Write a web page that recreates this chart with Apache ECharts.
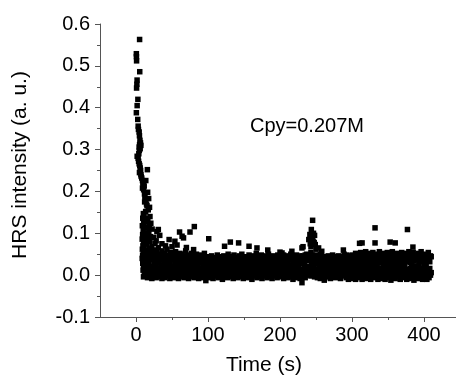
<!DOCTYPE html>
<html><head><meta charset="utf-8">
<script src="https://cdn.jsdelivr.net/npm/echarts@6/dist/echarts.min.js"></script>
<style>html,body{margin:0;padding:0;background:#fff}#c{width:456px;height:376px}</style>
</head><body><div id="c"></div>
<script>
const xTicks=[0,100,200,300,400];
const xMinorTicks=[50,150,250,350];
const xName="Time (s)";
const yName="HRS intensity (a. u.)";
const note="Cpy=0.207M";

// decay phase
const decayT=[5,0.5,0.6,0.8,5.2,1.5,1.2,0.8,2.6,1.6,0.5,2.4,3.0,3.4,4.4,4.8,5.5,6.2,5.0,4.4,5.8,4.6,6.8,3.9,
1.6,3.0,3.6,4.4,5.2,5.8,6.4,4.8,15.8,6.8,7.2,8.0,9.0,10.0,9.6,11.4,9.0,13.6,10.6,
16.2,11.8,12.4,17.6,13.0,12.0,14.6,15.2,18.8,17.0,13.4,10.2,11.2,19.4,9.4,14.0,12.6,16.4,10.6,
20.6,18.4,8.8,12.2,15.6,22.4,10.0,31.0,29.0,17.8,13.6,9.2,11.8,20.2,24.8,15.0,8.6,12.8,19.2,10.4,26.4,14.4,9.6,22.0,11.2,8.8,17.0,10.8,13.2,9.2,11.8,8.6,10.2,9.4,12.4,10.6,9.8,11.6,13.8,10.4,
46,54,60.5,64,66,75,81,80,36,41,28,33,50,57,70];
const decayY=[0.563,0.529,0.522,0.512,0.486,0.466,0.456,0.447,0.42,0.405,0.388,0.372,0.356,0.348,0.342,0.333,0.322,0.316,0.312,0.306,0.302,0.298,0.31,0.29,
0.284,0.279,0.272,0.266,0.262,0.256,0.25,0.245,0.252,0.24,0.236,0.232,0.226,0.222,0.216,0.213,0.208,0.226,0.204,
0.198,0.194,0.188,0.183,0.18,0.175,0.17,0.166,0.162,0.156,0.152,0.147,0.143,0.14,0.136,0.135,0.132,0.128,0.125,
0.124,0.12,0.118,0.115,0.113,0.11,0.107,0.109,0.104,0.103,0.1,0.097,0.094,0.092,0.09,0.088,0.086,0.083,0.081,0.078,0.076,0.074,0.07,0.068,0.066,0.062,0.06,0.055,0.052,0.048,0.044,0.04,0.035,0.028,0.024,0.02,0.012,0.005,0.0,-0.004,
0.085,0.081,0.103,0.093,0.089,0.103,0.116,0.061,0.075,0.07,0.082,0.095,0.068,0.072,0.066];

// scattered high / low points of the baseline (incl. the spike near 245 s)
const outT=[101,123,131,142.5,157,168,183,200,202.8,216.5,230.5,232,240,241.5,243.5,244,245.3,246,248,249,253.6,258,242,243,245,246.5,247.5,250,288,310.5,314,332,332,353,360,377,384.6,230.5,261.5,97];
const outY=[0.087,0.069,0.079,0.077,0.069,0.065,0.06,0.055,0.053,0.057,0.065,0.068,0.085,0.097,0.109,0.089,0.131,0.081,0.095,0.073,0.065,0.057,0.075,0.068,0.092,0.1,0.078,0.062,0.06,0.076,0.077,0.113,0.077,0.079,0.077,0.109,0.067,-0.018,-0.012,-0.013];

// baseline band, segment 1
const t1=[12,13,14,15,16,17,18,19,20,21,22,23,24,25,26,27,28,29,30,31,32,33,34,35,36,37,38,39,40,41,42,43,44,45,46,47,48,49,50,51,52,53,54,55,56,57,58,59,60,61,62,63,64,65,66,67,68,69,70,71,72,73,74,75,76,77,78,79,80,81,82,83,84,85,86,87,88,89,90,91,92,93,94,95,96,97,98,99];
const lo1=[0.012,-0.002,0.020,0.004,-0.006,0.016,0.008,-0.004,0.014,0.002,
-0.008,0.010,0.018,-0.002,0.006,0.012,-0.006,0.016,0.000,0.008,
0.014,-0.004,0.004,0.018,-0.008,0.010,0.002,0.012,-0.006,0.016,
0.006,-0.002,0.014,0.000,0.010,-0.008,0.018,0.004,-0.004,0.012,
0.008,-0.006,0.016,0.002,-0.002,0.010,0.014,-0.008,0.006,0.018,
0.000,0.012,-0.004,0.008,0.016,-0.006,0.004,0.010,-0.002,0.014,
0.006,-0.008,0.018,0.002,0.012,-0.004,0.008,0.016,0.000,-0.006,
0.010,0.014,-0.002,0.004,0.018,-0.008,0.012,0.006,-0.004,0.016,
0.002,0.010,-0.006,0.014,0.008,-0.002,0.018,0.004];
const hi1=[0.046,0.030,0.058,0.024,0.040,0.052,0.028,0.064,0.036,0.044,
0.056,0.022,0.038,0.060,0.032,0.048,0.026,0.054,0.042,0.066,
0.030,0.050,0.036,0.024,0.058,0.040,0.046,0.028,0.052,0.034,
0.044,0.062,0.026,0.038,0.048,0.030,0.054,0.042,0.022,0.050,
0.036,0.046,0.028,0.056,0.040,0.032,0.048,0.024,0.044,0.052,
0.030,0.038,0.050,0.026,0.042,0.034,0.046,0.058,0.028,0.040,
0.048,0.022,0.036,0.044,0.030,0.052,0.038,0.026,0.046,0.034,
0.042,0.028,0.050,0.036,0.024,0.044,0.032,0.048,0.040,0.030,
0.046,0.026,0.038,0.052,0.034,0.042,0.028,0.044];

// segment 2
const t2=[100,101,102,103,104,105,106,107,108,109,110,111,112,113,114,115,116,117,118,119,120,121,122,123,124,125,126,127,128,129,130,131,132,133,134,135,136,137,138,139,140,141,142,143,144,145,146,147,148,149,150,151,152,153,154,155,156,157,158,159,160,161,162,163,164,165,166,167,168,169,170,171,172,173,174,175,176,177,178,179,180,181,182,183,184,185,186,187,188,189,190,191,192,193,194,195,196,197,198,199];
const lo2=[0.004,-0.006,0.012,0.000,0.016,-0.004,0.008,-0.008,0.014,0.002,
0.010,-0.002,0.018,0.006,-0.006,0.012,0.000,0.016,-0.004,0.008,
-0.010,0.014,0.004,0.010,-0.002,0.018,0.002,-0.006,0.012,0.006,
0.016,-0.004,0.008,0.000,0.014,-0.008,0.010,0.004,-0.002,0.018,
0.006,-0.006,0.012,0.002,0.016,-0.004,0.008,0.000,0.014,-0.008,
0.010,0.004,-0.002,0.018,0.006,-0.006,0.012,0.000,0.016,-0.004,
0.008,-0.010,0.014,0.002,0.010,-0.002,0.018,0.004,-0.006,0.012,
0.006,0.016,-0.004,0.000,0.008,-0.008,0.014,0.010,0.002,-0.002,
0.018,0.004,-0.006,0.012,0.006,0.016,-0.004,0.000,0.008,-0.008,
0.014,0.002,0.010,-0.002,0.018,0.006,-0.006,0.012,0.000,0.016];
const hi2=[0.032,0.044,0.024,0.038,0.028,0.046,0.020,0.036,0.040,0.026,
0.042,0.030,0.022,0.048,0.034,0.026,0.040,0.018,0.044,0.032,
0.036,0.024,0.046,0.028,0.038,0.020,0.042,0.034,0.050,0.026,
0.030,0.040,0.022,0.044,0.036,0.028,0.048,0.024,0.038,0.032,
0.042,0.020,0.034,0.046,0.026,0.040,0.030,0.050,0.024,0.036,
0.028,0.044,0.032,0.022,0.040,0.036,0.026,0.048,0.030,0.038,
0.024,0.042,0.034,0.046,0.020,0.038,0.028,0.052,0.032,0.040,
0.026,0.044,0.036,0.030,0.048,0.022,0.040,0.034,0.046,0.028,
0.038,0.024,0.042,0.032,0.050,0.026,0.036,0.044,0.020,0.040,
0.030,0.046,0.028,0.038,0.024,0.042,0.034,0.048,0.026,0.036];

// segment 3
const t3=[200,201,202,203,204,205,206,207,208,209,210,211,212,213,214,215,216,217,218,219,220,221,222,223,224,225,226,227,228,229,230,231,232,233,234,235,236,237,238,239,240,241,242,243,244,245,246,247,248,249,250,251,252,253,254,255,256,257,258,259,260,261,262,263,264,265,266,267,268,269,270,271,272,273,274,275,276,277,278,279,280,281,282,283,284,285,286,287,288,289,290,291,292,293,294,295,296,297,298,299];
const lo3=[0.006,-0.004,0.014,0.000,0.010,-0.008,0.016,0.004,-0.002,0.012,
0.008,-0.006,0.018,0.002,0.012,-0.004,0.006,0.014,-0.010,0.010,
0.000,0.016,-0.006,0.008,0.004,-0.002,0.018,0.010,-0.008,0.014,
0.002,-0.004,0.012,0.006,0.016,-0.006,0.008,0.020,0.000,0.014,
0.010,0.004,0.018,-0.002,0.012,0.022,0.006,0.016,-0.004,0.010,
0.000,0.014,-0.006,0.008,0.018,0.002,-0.008,0.012,0.006,-0.002,
0.016,0.004,-0.006,0.010,0.000,0.014,-0.004,0.008,0.018,0.002,
-0.008,0.012,0.006,-0.002,0.016,0.000,0.010,-0.006,0.014,0.004,
0.008,-0.004,0.018,0.002,-0.008,0.012,0.006,0.016,-0.002,0.010,
0.000,0.014,-0.006,0.008,0.004,-0.010,0.018,0.002,0.012,-0.004];
const hi3=[0.034,0.044,0.026,0.040,0.022,0.048,0.030,0.038,0.042,0.028,
0.046,0.032,0.024,0.040,0.036,0.050,0.020,0.044,0.030,0.038,
0.026,0.042,0.034,0.048,0.022,0.040,0.030,0.046,0.036,0.028,
0.044,0.032,0.046,0.038,0.026,0.048,0.040,0.050,0.034,0.044,
0.046,0.040,0.036,0.054,0.030,0.048,0.034,0.042,0.028,0.038,
0.048,0.036,0.030,0.046,0.040,0.034,0.050,0.028,0.042,0.036,
0.024,0.040,0.030,0.044,0.034,0.022,0.038,0.046,0.028,0.036,
0.042,0.026,0.032,0.048,0.020,0.038,0.030,0.044,0.024,0.040,
0.034,0.046,0.028,0.038,0.042,0.022,0.036,0.030,0.044,0.050,
0.026,0.040,0.034,0.048,0.030,0.042,0.024,0.038,0.046,0.032];

// segment 4
const t4=[300,301,302,303,304,305,306,307,308,309,310,311,312,313,314,315,316,317,318,319,320,321,322,323,324,325,326,327,328,329,330,331,332,333,334,335,336,337,338,339,340,341,342,343,344,345,346,347,348,349,350,351,352,353,354,355,356,357,358,359,360,361,362,363,364,365,366,367,368,369,370,371,372,373,374,375,376,377,378,379,380,381,382,383,384,385,386,387,388,389,390,391,392,393,394,395,396,397,398,399,400,401,402,403,404,405,406,407,408,409,410];
const lo4=[0.004,-0.008,0.014,0.000,0.010,-0.010,0.018,0.006,-0.004,0.012,
0.002,-0.006,0.016,0.008,-0.010,0.012,0.004,-0.002,0.018,0.000,
-0.008,0.010,0.014,-0.004,0.006,0.020,-0.010,0.008,0.002,0.016,
-0.006,0.012,0.000,0.018,-0.002,0.006,-0.010,0.014,0.004,0.010,
-0.008,0.016,0.002,-0.004,0.012,0.008,-0.010,0.018,0.000,0.006,
0.014,-0.006,0.010,0.004,-0.012,0.016,0.002,-0.002,0.012,0.008,
-0.008,0.018,0.000,0.010,-0.004,0.014,0.006,-0.010,0.016,0.002,
0.012,-0.006,0.008,0.020,-0.002,0.004,-0.010,0.014,0.000,0.010,
-0.008,0.016,0.006,-0.004,0.012,0.002,-0.012,0.018,0.008,-0.002,
0.014,0.000,-0.008,0.010,0.004,0.016,-0.006,0.012,-0.010,0.006,
0.018,-0.004,0.008,0.002,-0.010,0.014,0.010,-0.006,0.016,0.000,0.006];
const hi4=[0.036,0.048,0.026,0.042,0.030,0.052,0.022,0.044,0.038,0.028,
0.046,0.034,0.054,0.024,0.040,0.050,0.030,0.044,0.036,0.056,
0.026,0.042,0.048,0.032,0.052,0.038,0.024,0.046,0.034,0.054,
0.040,0.028,0.050,0.036,0.044,0.022,0.048,0.032,0.056,0.038,
0.030,0.046,0.042,0.026,0.052,0.036,0.048,0.028,0.044,0.054,
0.034,0.050,0.024,0.040,0.046,0.032,0.056,0.038,0.028,0.048,
0.042,0.030,0.052,0.036,0.044,0.026,0.050,0.040,0.034,0.054,
0.028,0.046,0.038,0.024,0.052,0.042,0.032,0.048,0.036,0.056,
0.044,0.030,0.050,0.026,0.040,0.054,0.034,0.046,0.038,0.022,
0.048,0.036,0.052,0.028,0.044,0.040,0.056,0.032,0.046,0.038,
0.030,0.050,0.042,0.026,0.048,0.036,0.054,0.040,0.032,0.046,0.044];

function pairs(t,y){return t.map((v,i)=>[v,y[i]]);}
const allData=[].concat(
  pairs(t1,lo1),pairs(t1,hi1),pairs(t2,lo2),pairs(t2,hi2),
  pairs(t3,lo3),pairs(t3,hi3),pairs(t4,lo4),pairs(t4,hi4),
  pairs(outT,outY),pairs(decayT,decayY));

const FONT='"Liberation Sans", Arial, sans-serif';
const AX='#555';
const chart=echarts.init(document.getElementById('c'),null,{renderer:'canvas'});
chart.setOption({
  animation:false,
  backgroundColor:'#fff',
  grid:{left:100,top:24,right:-4,bottom:59,containLabel:false,outerBoundsMode:'none'},
  xAxis:[{
    type:'value',min:-50,max:450,
    axisLine:{show:true,onZero:false,lineStyle:{color:AX,width:1}},
    axisTick:{show:true,inside:false,length:5,customValues:xTicks,lineStyle:{color:AX}},
    axisLabel:{show:true,customValues:xTicks,margin:8,color:'#000',fontSize:20,fontFamily:FONT},
    splitLine:{show:false}
  },{
    type:'value',min:-50,max:450,gridIndex:0,position:'bottom',
    axisLine:{show:false,onZero:false},
    axisTick:{show:true,inside:false,length:3,customValues:xMinorTicks,lineStyle:{color:AX}},
    axisLabel:{show:false},
    splitLine:{show:false}
  }],
  yAxis:{
    type:'value',min:-0.1,max:0.6,interval:0.1,
    axisLine:{show:true,onZero:false,lineStyle:{color:AX,width:1}},
    axisTick:{show:true,inside:false,length:5,lineStyle:{color:AX}},
    minorTick:{show:true,splitNumber:2,length:3,lineStyle:{color:AX}},
    axisLabel:{margin:10,color:'#000',fontSize:20,fontFamily:FONT,formatter:v=>v.toFixed(1)},
    splitLine:{show:false}
  },
  series:[{
    type:'scatter',xAxisIndex:0,symbol:'rect',symbolSize:5.5,
    itemStyle:{color:'#000',opacity:1},
    emphasis:{disabled:true},
    data:allData,silent:true
  }],
  graphic:[
    {type:'text',x:264,y:365,style:{text:xName,font:'21px '+FONT,fill:'#000',align:'center',verticalAlign:'middle'}},
    {type:'text',x:20,y:165,rotation:Math.PI/2,style:{text:yName,font:'21px '+FONT,fill:'#000',align:'center',verticalAlign:'middle'}},
    {type:'text',x:250,y:126,style:{text:note,font:'20px '+FONT,fill:'#000',align:'left',verticalAlign:'middle'}}
  ]
});
</script>
</body></html>
